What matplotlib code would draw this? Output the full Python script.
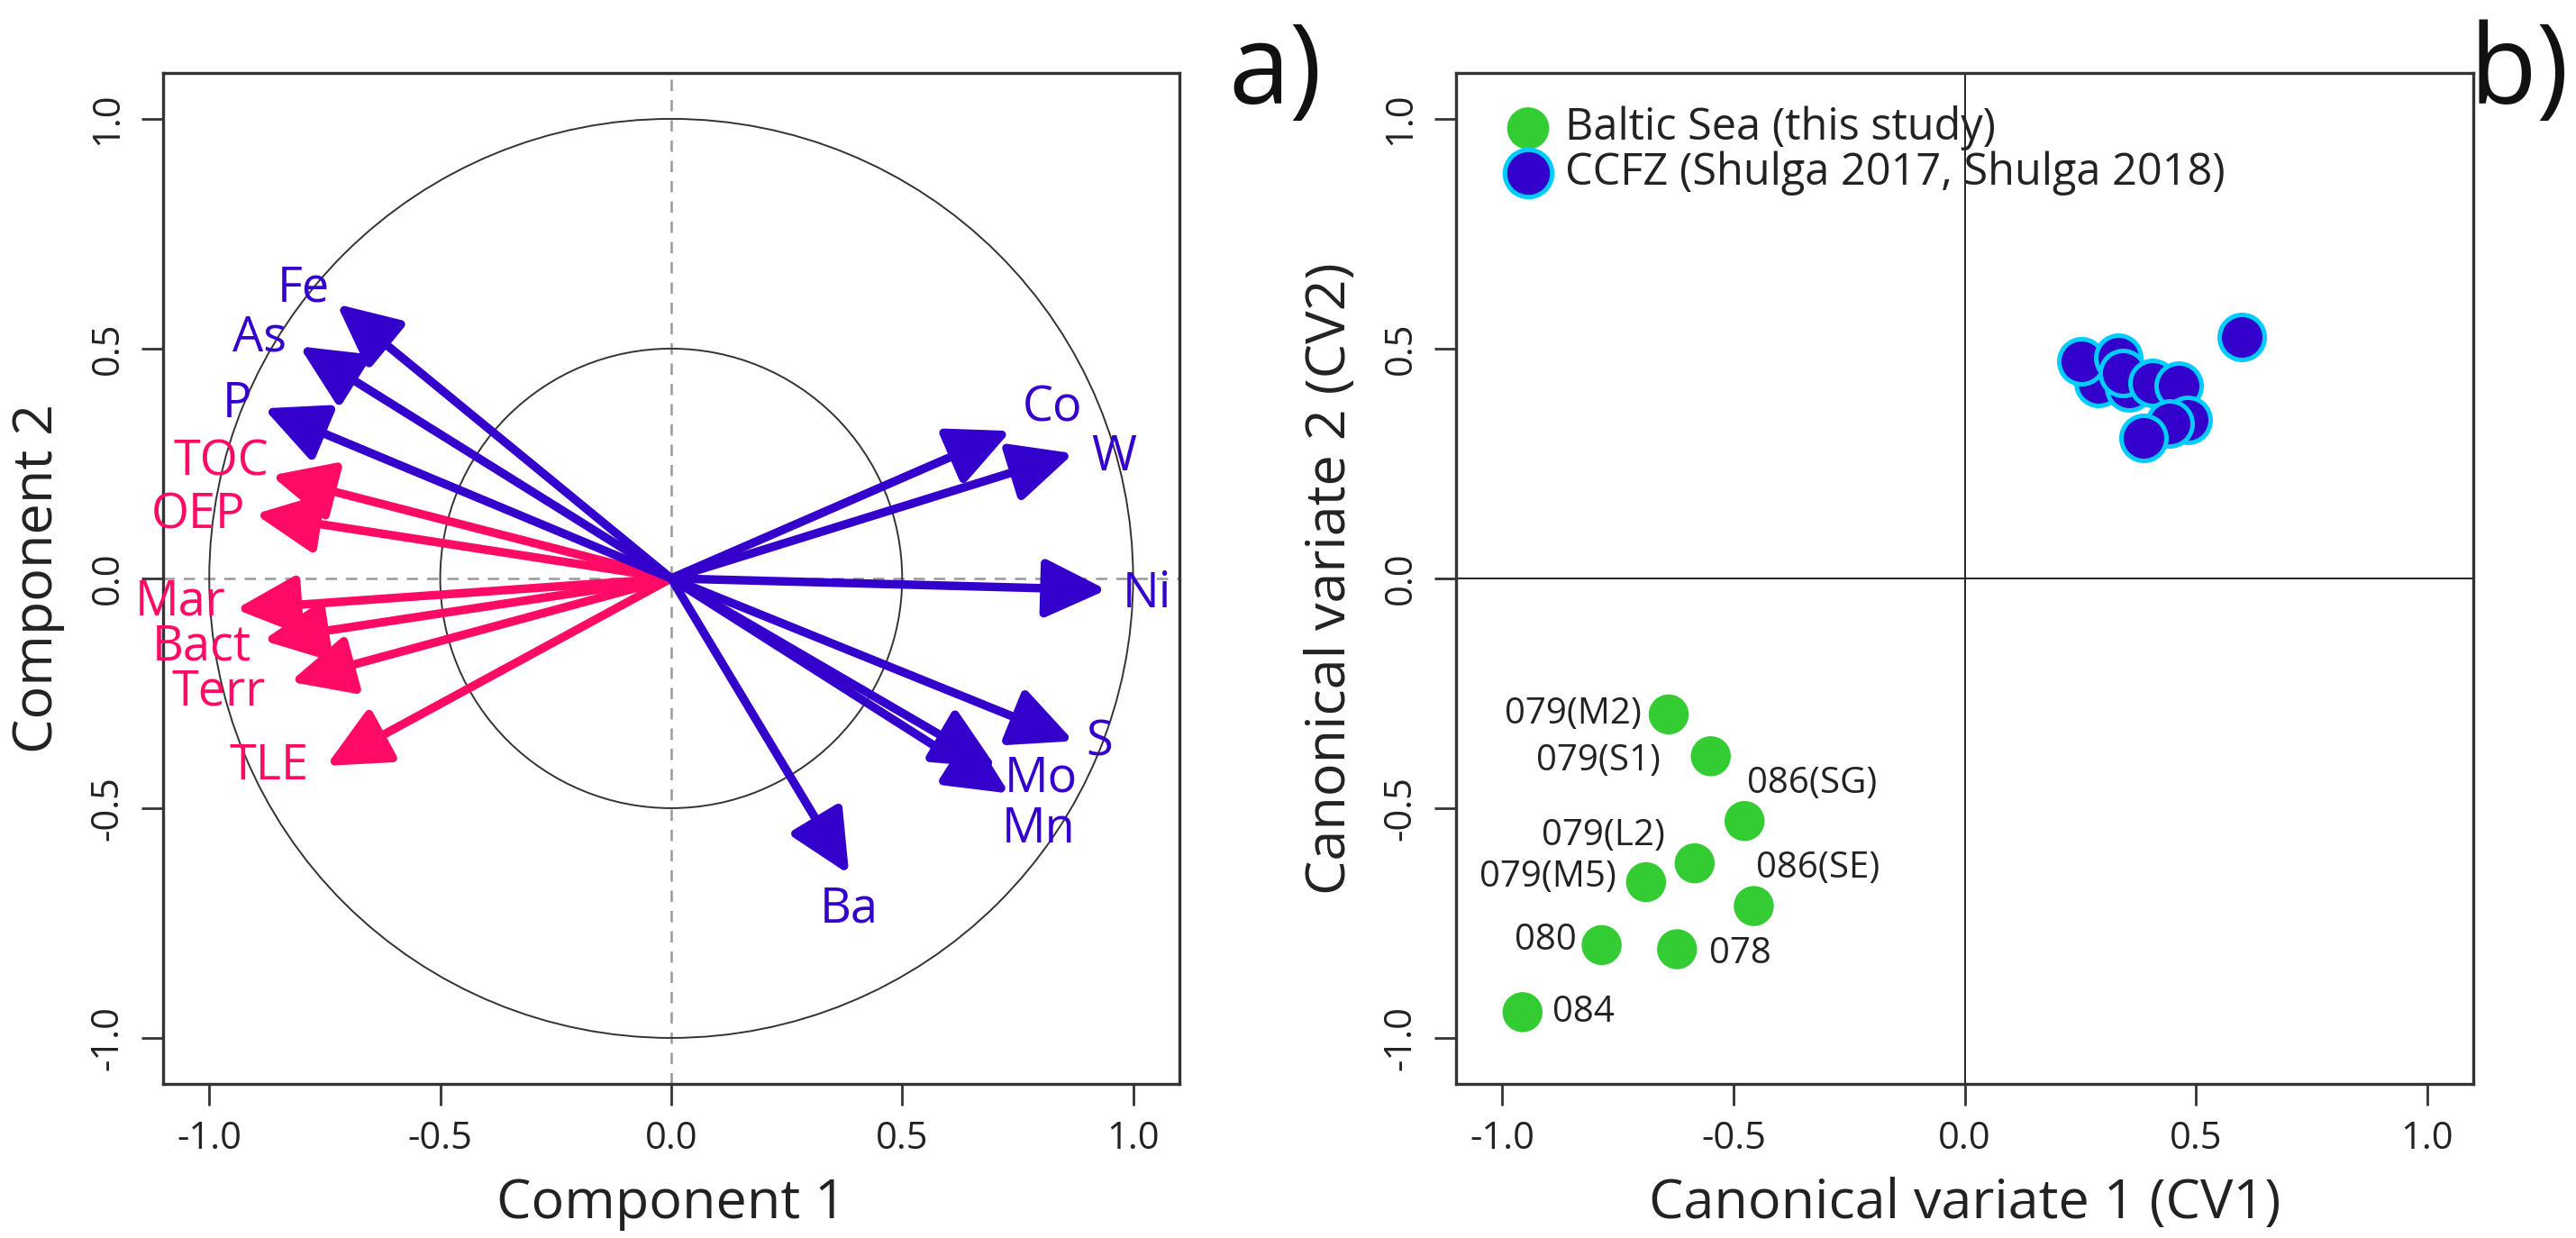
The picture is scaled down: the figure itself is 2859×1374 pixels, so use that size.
import numpy as np
import matplotlib
matplotlib.use("Agg")
import matplotlib.pyplot as plt
from matplotlib.patches import Circle
from matplotlib.ticker import FormatStrFormatter

plt.rcParams['font.family'] = ['Open Sans', 'DejaVu Sans']
plt.rcParams['axes.unicode_minus'] = False

# =========================
# Data: a) loadings (arrows)
# =========================

blue_vars = ['Fe', 'As', 'P', 'Co', 'W', 'Ni', 'S', 'Mo', 'Mn', 'Ba']
blue_c1 = [-0.724, -0.805, -0.882, 0.735, 0.871, 0.943, 0.871, 0.704, 0.732, 0.385]
blue_c2 = [0.597, 0.505, 0.370, 0.321, 0.272, -0.025, -0.354, -0.412, -0.468, -0.644]

red_vars = ['TOC', 'OEP', 'Mar', 'Bact', 'Terr', 'TLE']
red_c1 = [-0.866, -0.901, -0.943, -0.884, -0.825, -0.747]
red_c2 = [0.224, 0.140, -0.067, -0.135, -0.225, -0.408]

# =========================
# Data: b) canonical variates
# =========================

baltic_names = ['079(M2)', '079(S1)', '086(SG)', '079(L2)', '079(M5)',
                '086(SE)', '080', '078', '084']
baltic_cv1 = [-0.640, -0.549, -0.476, -0.584, -0.689, -0.456, -0.785, -0.622, -0.956]
baltic_cv2 = [-0.296, -0.387, -0.528, -0.620, -0.661, -0.713, -0.798, -0.807, -0.944]

ccfz_cv1 = [0.289, 0.253, 0.355, 0.333, 0.342, 0.407, 0.463, 0.482, 0.443, 0.387, 0.598]
ccfz_cv2 = [0.426, 0.473, 0.416, 0.481, 0.446, 0.426, 0.419, 0.344, 0.338, 0.305, 0.526]

# =========================
# Styles / layout
# =========================

BLUE = '#3300CC'
RED = '#FF0A64'
GREEN = '#33CC33'
CYAN = '#00CCFF'
AXC = '#333333'
TXT = '#222222'

# label placement: 1.1 * tip plus small nudge (data units)
arrow_nudge = {
    'Fe': (0.0, -0.025), 'As': (-0.006, -0.032), 'P': (0.03, -0.027),
    'TOC': (-0.022, 0.007), 'OEP': (-0.032, -0.016), 'Mar': (-0.025, 0.022),
    'Bact': (-0.045, 0.0), 'Terr': (-0.073, 0.0), 'TLE': (-0.049, 0.04),
    'Co': (0.016, 0.017), 'W': (0.0, -0.035), 'Ni': (-0.007, -0.007),
    'S': (-0.032, 0.033), 'Mo': (0.026, 0.018), 'Mn': (-0.01, -0.031),
    'Ba': (-0.039, -0.012),
}

# point label offsets in points: (ha, dx, dy)
point_label = {
    '079(M2)': ('right', -11, 0), '079(S1)': ('right', -20, -2),
    '086(SG)': ('left', 1, 15), '079(L2)': ('right', -12, 11),
    '079(M5)': ('right', -12, 2), '086(SE)': ('left', 1, 15),
    '080': ('right', -10, 2), '078': ('left', 13, -2), '084': ('left', 12, 0),
}

TICKS = [-1.0, -0.5, 0.0, 0.5, 1.0]
LIM = (-1.1, 1.1)

fig = plt.figure(figsize=(14.295, 6.87), dpi=200)

ax1 = fig.add_axes([0.0633, 0.1245, 0.3945, 0.8166])
ax2 = fig.add_axes([0.5652, 0.1245, 0.3950, 0.8166])


def style_axes(ax):
    ax.set_xlim(LIM)
    ax.set_ylim(LIM)
    ax.set_xticks(TICKS)
    ax.set_yticks(TICKS)
    ax.xaxis.set_major_formatter(FormatStrFormatter('%.1f'))
    ax.yaxis.set_major_formatter(FormatStrFormatter('%.1f'))
    ax.tick_params(direction='out', length=8.5, width=1.0, color=AXC,
                   labelsize=15, labelcolor=TXT, pad=6)
    for lab in ax.get_yticklabels():
        lab.set_rotation(90)
        lab.set_va('center')
    for sp in ax.spines.values():
        sp.set_color(AXC)
        sp.set_linewidth(1.2)


def set_labels(ax, xlab, ylab):
    ax.set_xlabel(xlab, fontsize=22, color=TXT)
    ax.set_ylabel(ylab, fontsize=22, color=TXT)
    ax.xaxis.label.set_va('center')
    ax.yaxis.label.set_va('center')
    ax.xaxis.set_label_coords(0.5, -0.119)
    ax.yaxis.set_label_coords(-0.123, 0.5)


# =========================
# a) Correlation circle
# =========================

style_axes(ax1)

ax1.axhline(0, color='#999999', lw=0.9, ls=(0, (5, 4)), zorder=1)
ax1.axvline(0, color='#999999', lw=0.9, ls=(0, (5, 4)), zorder=1)

for r in [1.0, 0.5]:
    ax1.add_patch(Circle((0, 0), r, fill=False, ec='#333333', lw=0.7, zorder=1))


def draw_arrows(ax, names, xs, ys, color):
    for name, x, y in zip(names, xs, ys):
        ax.annotate('', xy=(x, y), xytext=(0, 0),
                    arrowprops=dict(arrowstyle='-|>,head_length=2.1,head_width=1.0',
                                    color=color, lw=3.4, mutation_scale=10,
                                    shrinkA=0, shrinkB=0),
                    zorder=3)
        nx, ny = arrow_nudge.get(name, (0, 0))
        ax.text(1.1 * x + nx, 1.1 * y + ny, name, color=color, fontsize=19.5,
                ha='center', va='center', zorder=4)


draw_arrows(ax1, red_vars, red_c1, red_c2, RED)
draw_arrows(ax1, blue_vars, blue_c1, blue_c2, BLUE)

set_labels(ax1, 'Component 1', 'Component 2')

# =========================
# b) Canonical variates
# =========================

style_axes(ax2)

ax2.axhline(0, color=TXT, lw=0.7, zorder=1)
ax2.axvline(0, color=TXT, lw=0.7, zorder=1)

h_baltic = ax2.scatter(baltic_cv1, baltic_cv2, s=16 ** 2, color=GREEN,
                       edgecolors='none', zorder=3,
                       label='Baltic Sea (this study)')
h_ccfz = ax2.scatter(ccfz_cv1, ccfz_cv2, s=18 ** 2, color=BLUE,
                     edgecolors=CYAN, linewidths=1.8, zorder=3,
                     label='CCFZ (Shulga 2017, Shulga 2018)')

for name, x, y in zip(baltic_names, baltic_cv1, baltic_cv2):
    ha, dx, dy = point_label[name]
    ax2.annotate(name, xy=(x, y), xytext=(dx, dy), textcoords='offset points',
                 ha=ha, va='center', fontsize=14.5, color=TXT, zorder=4)

ax2.legend(handles=[h_baltic, h_ccfz], loc='upper left',
           bbox_to_anchor=(0.015, 0.998), frameon=False, fontsize=17.5,
           handletextpad=0.25, labelspacing=0.0, borderaxespad=0.3,
           handlelength=1.2, markerscale=1.05, labelcolor=TXT)

set_labels(ax2, 'Canonical variate 1 (CV1)', 'Canonical variate 2 (CV2)')

# =========================
# Panel letters
# =========================

fig.text(0.495, 0.94, 'a)', fontsize=44, ha='center', va='center', color='#111111')
fig.text(0.978, 0.94, 'b)', fontsize=44, ha='center', va='center', color='#111111')

fig.savefig('out.png', dpi=200)
